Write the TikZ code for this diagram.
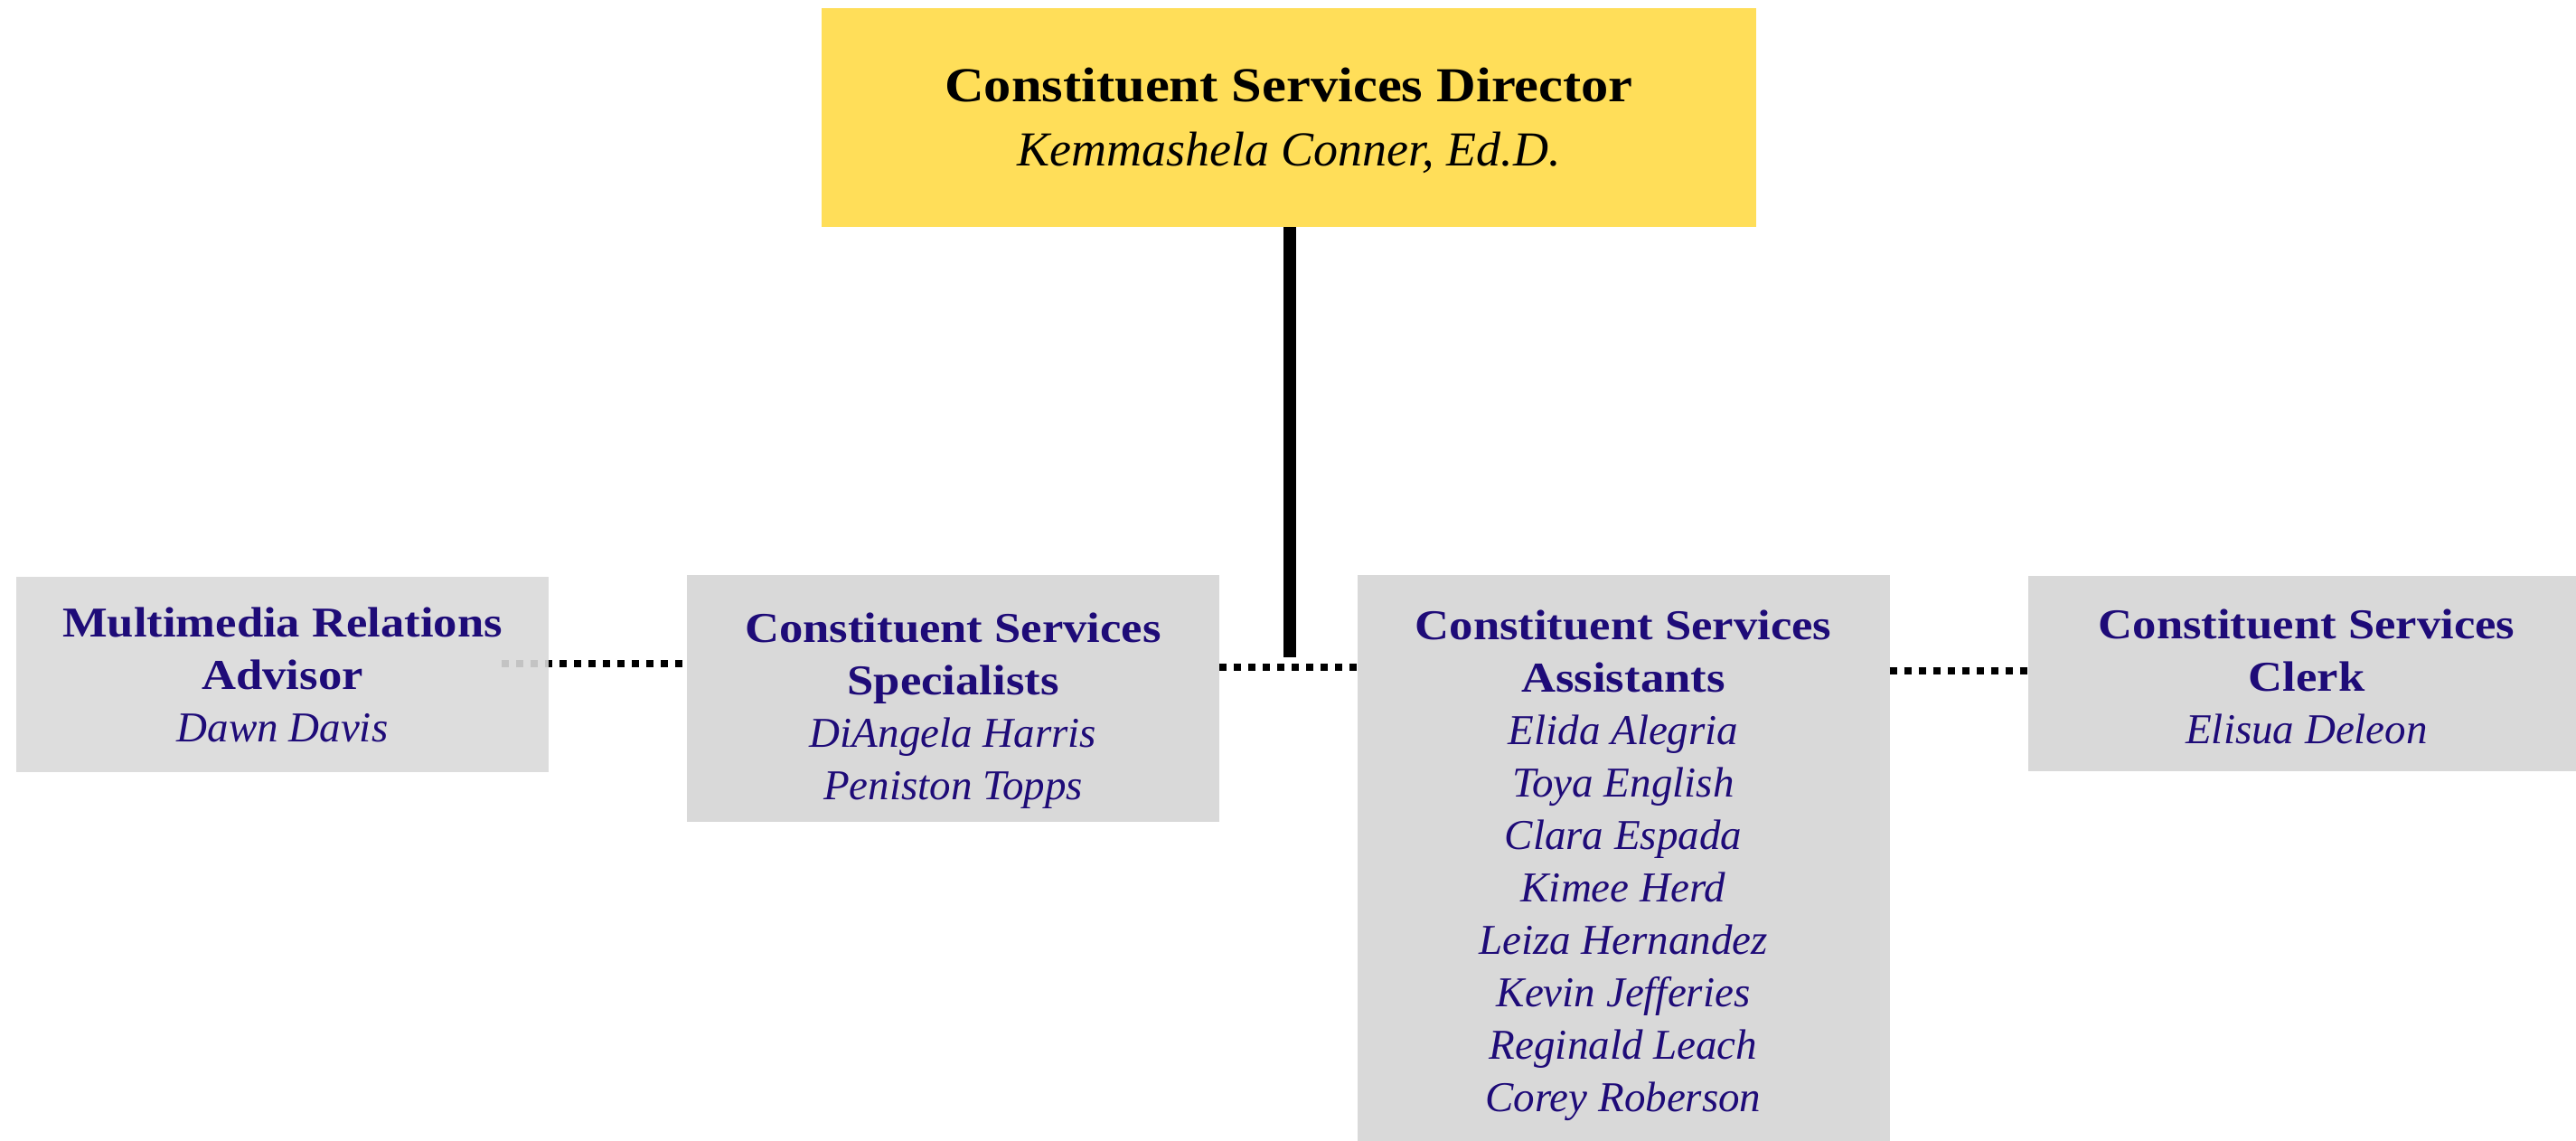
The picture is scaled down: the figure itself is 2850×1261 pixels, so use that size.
\documentclass[tikz,border=0pt]{standalone}
\usepackage{fontspec}
\setmainfont{Liberation Serif}[BoldFeatures={FakeStretch=1.12}]
\usepackage{xcolor}
\definecolor{headyellow}{HTML}{FFDE59}
\definecolor{boxgrey}{HTML}{D9D9D9}
\definecolor{ink}{HTML}{1E0B78}

\begin{document}
\begin{tikzpicture}[x=1pt,y=-1pt]
    \pgfmathsetmacro{\w}{589}
    \tikzset{
        head/.style={fill=headyellow, inner sep=0pt, minimum width=1034pt, minimum height=242pt,
            align=center, font=\fontsize{54}{71}\selectfont},
        role/.style={fill=boxgrey, text=ink, inner sep=0pt, minimum width=\w pt,
            align=center, font=\fontsize{47}{58}\selectfont},
        dotline/.style={line width=8pt, dash pattern=on 8pt off 8pt},
    }
    \useasboundingbox (0,0) rectangle (2850,1261);
    % staff boxes
    \draw[dotline] (555,734) -- (760,734);
    \node[head] (dir) at (1426,130) {\rule{0pt}{45pt}\textbf{Constituent Services Director}\\\textit{Kemmashela Conner, Ed.D.}};
    \node[role, fill opacity=0.9, text opacity=1, minimum height=216pt] (mma) at (312.5,746)
        {\textbf{Multimedia Relations}\\\textbf{Advisor}\\\textit{Dawn Davis}};
    \node[role, minimum height=273pt] (spec) at (1054.5,772.5)
        {\rule{0pt}{59pt}\textbf{Constituent Services}\\\textbf{Specialists}\\\textit{DiAngela Harris}\\\textit{Peniston Topps}};
    \node[role, minimum height=633pt] (asst) at (1796,952.5)
        {\rule{0pt}{42pt}\textbf{Constituent Services}\\\textbf{Assistants}\\\textit{Elida Alegria}\\\textit{Toya English}\\
         \textit{Clara Espada}\\\textit{Kimee Herd}\\\textit{Leiza Hernandez}\\\textit{Kevin Jefferies}\\
         \textit{Reginald Leach}\\\textit{Corey Roberson}};
    \node[role, minimum width=616pt, minimum height=216pt] (clerk) at (2552,745)
        {\rule{0pt}{40pt}\textbf{Constituent Services}\\\textbf{Clerk}\\\textit{Elisua Deleon}};
    % links
    \coordinate (drop) at (1427,727);
    \draw[line width=14pt] (dir.south -| drop) -- (drop);
    \draw[dotline] (spec.east |- 0,738) -- (asst.west |- 0,738);
    \draw[dotline] (asst.east |- 0,742) -- (clerk.west |- 0,742);
\end{tikzpicture}
\end{document}
